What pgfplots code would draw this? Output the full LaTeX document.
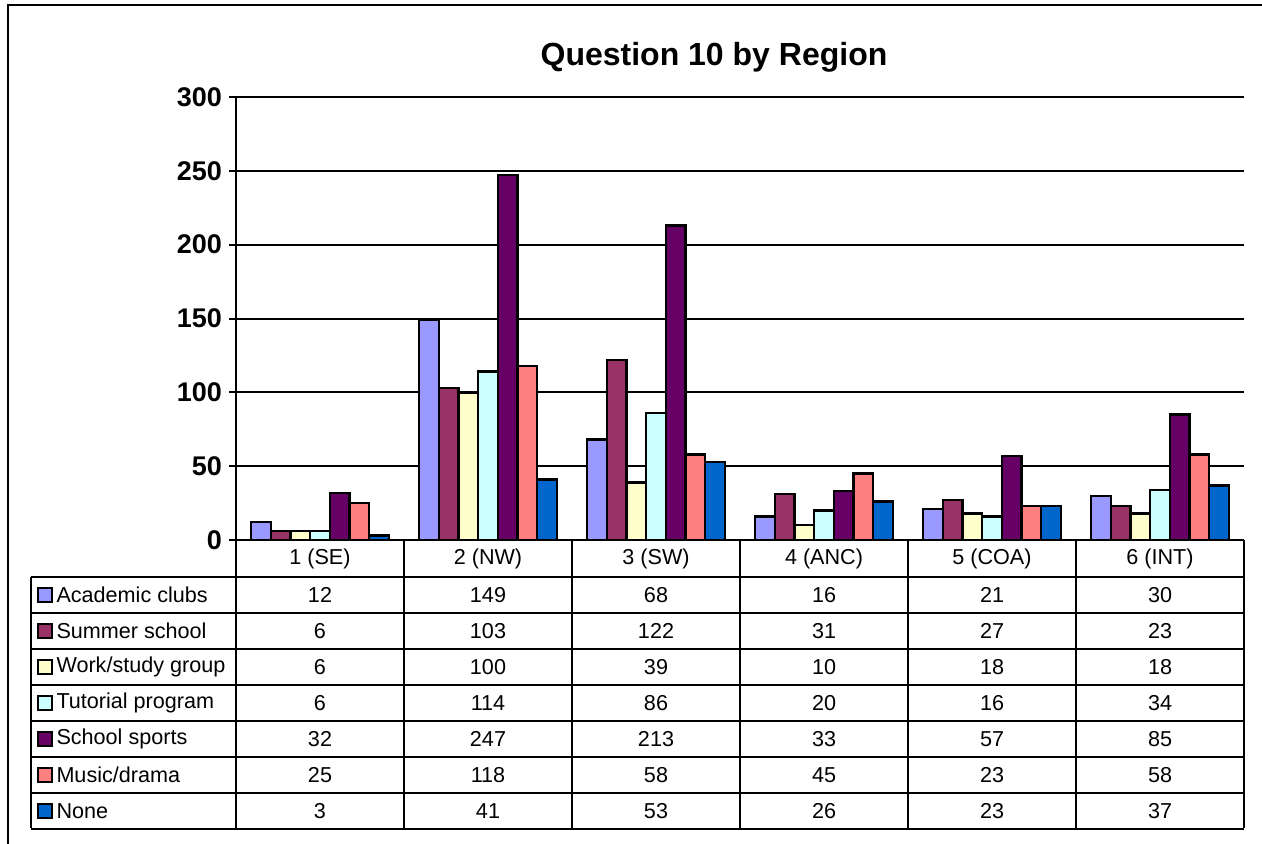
\documentclass[border=0pt]{standalone}
\usepackage{fontspec}
\setmainfont{Liberation Sans}
\usepackage{pgfplots}
\usepackage{pgfplotstable}
\pgfplotsset{compat=1.18}

\definecolor{cac}{HTML}{9999FF}
\definecolor{css}{HTML}{993366}
\definecolor{cws}{HTML}{FFFFCC}
\definecolor{ctp}{HTML}{CCFFFF}
\definecolor{csp}{HTML}{660066}
\definecolor{cmd}{HTML}{FF8080}
\definecolor{cno}{HTML}{0066CC}

% region index, then one column per answer
\pgfplotstableread{
x ac ss ws tp sp md no
0 12 6 6 6 32 25 3
1 149 103 100 114 247 118 41
2 68 122 39 86 213 58 53
3 16 31 10 20 33 45 26
4 21 27 18 16 57 23 23
5 30 23 18 34 85 58 37
}\datatable

\begin{document}
\begin{tikzpicture}
% pixel grid of the reference, origin top left
\begin{scope}[x=0.5pt,y=-0.5pt]
  \path[use as bounding box] (0,0) rectangle (1262,844);
  \draw[line width=1.1pt] (8,844) -- (8,5) -- (1262,5);
  \node[font=\fontsize{16}{18}\selectfont\bfseries] at (714,57) {Question 10 by Region};
\end{scope}

\begin{axis}[
    at={(118pt,-270pt)}, anchor=south west,
    scale only axis, width=504pt, height=221.5pt,
    xmin=-0.5, xmax=5.5, ymin=0, ymax=300,
    xtick=\empty, ytick={0,50,...,300},
    axis lines=left, axis line style={-, line width=1pt},
    ymajorgrids, grid style={black, line width=1pt},
    tick align=outside, major tick length=3.5pt,
    tick style={black, line width=1pt},
    /pgf/number format/assume math mode=true,
    yticklabel style={font=\fontsize{13.5}{13.5}\selectfont\bfseries},
    tick label style={/pgf/number format/1000 sep={}},
    ybar=0pt, bar width=9.85pt,
  ]
  \addplot[draw=black, line width=1.2pt, fill=cac] table[x=x,y=ac] {\datatable};
  \addplot[draw=black, line width=1.2pt, fill=css] table[x=x,y=ss] {\datatable};
  \addplot[draw=black, line width=1.2pt, fill=cws] table[x=x,y=ws] {\datatable};
  \addplot[draw=black, line width=1.2pt, fill=ctp] table[x=x,y=tp] {\datatable};
  \addplot[draw=black, line width=1.2pt, fill=csp] table[x=x,y=sp] {\datatable};
  \addplot[draw=black, line width=1.2pt, fill=cmd] table[x=x,y=md] {\datatable};
  \addplot[draw=black, line width=1.2pt, fill=cno] table[x=x,y=no] {\datatable};
\end{axis}

% data table below the plot
\begin{scope}[x=0.5pt,y=-0.5pt, line width=1pt, font=\fontsize{10.8}{12}\selectfont]
  \foreach \i in {0,...,6} {
    \draw ({236+168*\i},540) -- ({236+168*\i},827.7);
  }
  \draw (31,576.7) -- (31,827.7);
  \foreach \j in {0,...,7} {
    \draw (31,{576.7+36*\j}) -- (1244,{576.7+36*\j});
  }
  \foreach \lab [count=\g from 0] in {1 (SE),2 (NW),3 (SW),4 (ANC),5 (COA),6 (INT)} {
    \node at ({320+168*\g},558.5) {\lab};
  }
  \foreach \col/\name/\c [count=\r from 0] in {ac/Academic clubs/cac,ss/Summer school/css,ws/Work\slash study group/cws,tp/Tutorial program/ctp,sp/School sports/csp,md/Music\slash drama/cmd,no/None/cno} {
    \draw[fill=\c, line width=1pt] (37.5,{594.7+36*\r-7}) rectangle (51.5,{594.7+36*\r+7});
    \node[anchor=west, inner sep=0pt] at (55.5,{594.7+36*\r}) {\name};
    \foreach \g in {0,...,5} {
      \pgfplotstablegetelem{\g}{\col}\of\datatable
      \node at ({320+168*\g},{594.7+36*\r}) {\pgfplotsretval};
    }
  }
\end{scope}
\end{tikzpicture}
\end{document}
